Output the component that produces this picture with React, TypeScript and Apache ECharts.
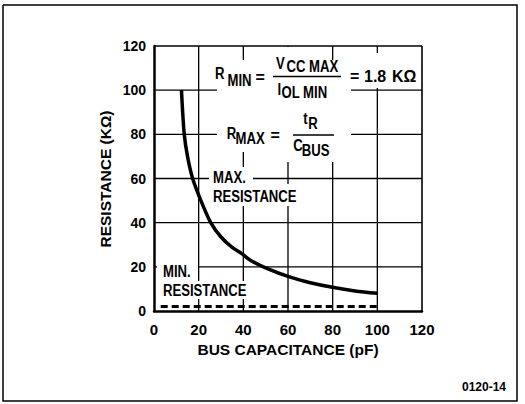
import React, { useEffect, useRef } from "react";
import * as echarts from "echarts";

// ---- data ----
const busCapacitance = [12.3, 13.5, 15, 17.3, 21, 25.4, 30, 35, 39.3, 43, 50.5, 61, 70, 80.5, 90, 100];
const maxResistance = [100, 80.5, 70, 60, 50, 40, 33.5, 28.8, 26, 23.1, 19.3, 15.3, 12.8, 10.6, 9.1, 8];
const minCapRange = [3, 100];
const minResistance = [2, 2];
const xTicks = [0, 20, 40, 60, 80, 100, 120];
const yTicks = [0, 20, 40, 60, 80, 100, 120];

const FONT = '"Liberation Sans", Arial, sans-serif';
const NARROW = 0.82;

function txt(text: string, x: number, y: number, size = 16, align = "left", sx = NARROW, rot = 0) {
  return {
    type: "text",
    z: 101,
    x,
    y,
    scaleX: sx,
    rotation: rot,
    style: {
      text,
      fill: "#000",
      font: `bold ${size}px ${FONT}`,
      textAlign: align,
      textVerticalAlign: "middle",
    },
  };
}
function mask(x: number, y: number, w: number, h: number) {
  return { type: "rect", z: 100, shape: { x, y, width: w, height: h }, style: { fill: "#fff" } };
}
function hline(x1: number, x2: number, y: number) {
  return { type: "line", z: 101, shape: { x1, y1: y, x2, y2: y }, style: { stroke: "#000", lineWidth: 1.5 } };
}

export default function App() {
  const ref = useRef<HTMLDivElement>(null);
  useEffect(() => {
    document.body.style.margin = "0";
    const chart = echarts.init(ref.current!, undefined, { renderer: "svg" });
    const xMin = xTicks[0], xMax = xTicks[xTicks.length - 1];
    const yMin = yTicks[0], yMax = yTicks[yTicks.length - 1];

    // grid lines drawn as series through the chart's own scales
    const gridSeries: any[] = [];
    xTicks.forEach((v) => {
      if (v === xMin) return;
      gridSeries.push({
        type: "line",
        data: [[v, yMin], [v, yMax]],
        symbol: "none",
        silent: true,
        clip: false,
        z: 2,
        lineStyle: { color: "#000", width: v === xMax ? 1.6 : 1.3 },
      });
    });
    yTicks.forEach((v) => {
      if (v === yMin) return;
      gridSeries.push({
        type: "line",
        data: [[xMin, v], [xMax, v]],
        symbol: "none",
        silent: true,
        clip: false,
        z: 2,
        lineStyle: { color: "#000", width: v === yMax ? 1.6 : 1.3 },
      });
    });

    chart.setOption({
      animation: false,
      grid: { left: 154, top: 46, width: 268, height: 265 },
      xAxis: {
        type: "value",
        min: xMin,
        max: xMax,
        interval: 20,
        axisLine: { show: true, lineStyle: { color: "#000", width: 2.5 } },
        axisTick: { show: false },
        splitLine: { show: false },
        axisLabel: { color: "#000", fontFamily: FONT, fontWeight: "bold", fontSize: 15, margin: 11 },
      },
      yAxis: {
        type: "value",
        min: yMin,
        max: yMax,
        interval: 20,
        axisLine: { show: true, lineStyle: { color: "#000", width: 2.5 } },
        axisTick: { show: false },
        splitLine: { show: false },
        axisLabel: { color: "#000", fontFamily: FONT, fontWeight: "bold", fontSize: 14, margin: 8 },
      },
      series: [
        ...gridSeries,
        {
          type: "line",
          data: busCapacitance.map((c, i) => [c, maxResistance[i]]),
          smooth: 0.3,
          symbol: "none",
          z: 3,
          lineStyle: { color: "#000", width: 3.5 },
        },
        {
          type: "line",
          data: minCapRange.map((c, i) => [c, minResistance[i]]),
          symbol: "none",
          z: 3,
          lineStyle: { color: "#000", width: 3, type: [7, 4] },
        },
      ],
      graphic: [
        {
          type: "polyline",
          z: 100,
          shape: { points: [[3, 5], [517, 5], [517, 401], [3, 401], [3, 5]] },
          style: { stroke: "#000", lineWidth: 1.5 },
        },
        mask(217, 60, 134, 92),
        mask(272, 47, 56, 14),
        mask(276, 150, 62, 12),
        mask(346, 53, 74, 35),
        mask(209, 167, 44, 17),
        mask(209, 184, 99, 22),
        mask(157, 263, 41, 17),
        mask(157, 281, 97, 18),
        // axis titles
        txt("BUS CAPACITANCE (pF)", 288, 349, 15.5, "center", 1),
        txt("RESISTANCE (KΩ)", 105, 179, 15.5, "center", 1, Math.PI / 2),
        // R_MIN formula
        txt("R", 215, 74),
        txt("MIN", 227.5, 81),
        txt("=", 255.5, 77, 16, "left", 1),
        txt("V", 276, 63.5),
        txt("CC MAX", 286.5, 67),
        hline(273, 341, 76.5),
        txt("I", 277.5, 90),
        txt("OL MIN", 281.5, 93),
        txt("=", 350, 76, 16, "left", 1),
        txt("1.8", 364, 76, 16, "left", 1),
        txt("KΩ", 392, 76, 16, "left", 1),
        // R_MAX formula
        txt("R", 226.7, 134),
        txt("MAX", 235.5, 139),
        txt("=", 270.5, 135, 16, "left", 1),
        txt("t", 303.3, 119),
        txt("R", 308.3, 124),
        hline(293, 334, 135),
        txt("C", 293.3, 146),
        txt("BUS", 301.7, 151),
        // curve labels
        txt("MAX.", 213, 177.5),
        txt("RESISTANCE", 213, 196.5),
        txt("MIN.", 163, 271.5),
        txt("RESISTANCE", 163, 291),
        txt("0120-14", 506, 387, 12, "right", 1),
      ],
    });
    return () => chart.dispose();
  }, []);
  return <div ref={ref} style={{ width: 525, height: 404 }} />;
}
